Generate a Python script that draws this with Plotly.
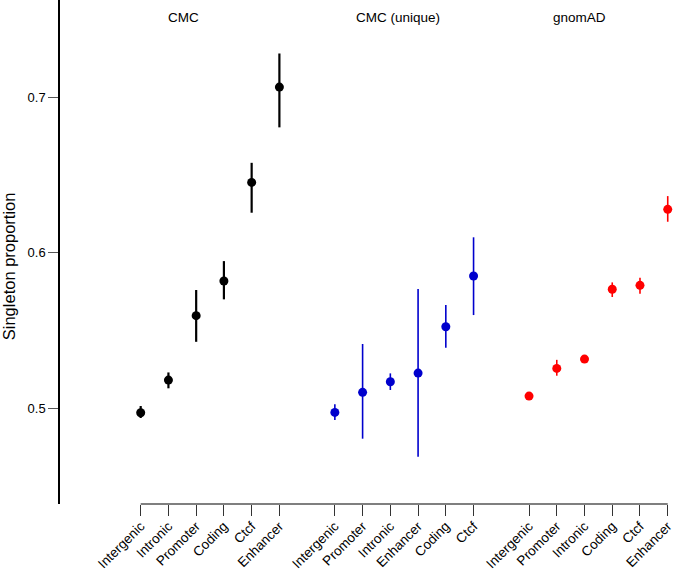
import plotly.graph_objects as go

# ---- data ----
groups = ["CMC", "CMC (unique)", "gnomAD"]
colors = ["#000000", "#0000CD", "#FF0000"]

cmc_labels = ["Intergenic", "Intronic", "Promoter", "Coding", "Ctcf", "Enhancer"]
cmc_vals = [0.497, 0.518, 0.5594, 0.5817, 0.6451, 0.7064]
cmc_lo = [0.4936, 0.5127, 0.5426, 0.5699, 0.6256, 0.6805]
cmc_hi = [0.5013, 0.5229, 0.5759, 0.5945, 0.6577, 0.728]

uniq_labels = ["Intergenic", "Promoter", "Intronic", "Enhancer", "Coding", "Ctcf"]
uniq_vals = [0.4972, 0.5101, 0.5169, 0.5225, 0.5523, 0.5849]
uniq_lo = [0.4923, 0.4803, 0.5116, 0.4687, 0.5388, 0.5598]
uniq_hi = [0.5024, 0.5412, 0.5223, 0.5765, 0.5662, 0.6098]

gnomad_labels = ["Intergenic", "Promoter", "Intronic", "Coding", "Ctcf", "Enhancer"]
gnomad_vals = [0.5077, 0.5255, 0.5315, 0.5764, 0.5789, 0.6278]
gnomad_lo = [0.5065, 0.5208, 0.5305, 0.5714, 0.5735, 0.6198]
gnomad_hi = [0.5089, 0.531, 0.5325, 0.5808, 0.5838, 0.6363]

y_ticks = [0.5, 0.6, 0.7]
y_ticktext = ["0.5", "0.6", "0.7"]

# ---- layout helpers ----
series = [
    (cmc_labels, cmc_vals, cmc_lo, cmc_hi),
    (uniq_labels, uniq_vals, uniq_lo, uniq_hi),
    (gnomad_labels, gnomad_vals, gnomad_lo, gnomad_hi),
]
group_start = [1, 8, 15]
title_x = [2.56, 10.28, 16.83]
line_w = [2.2, 1.6, 1.6]

fig = go.Figure()
tickvals, ticktext = [], []
for g, (labs, vals, lo, hi) in enumerate(series):
    xs = [group_start[g] + i for i in range(len(labs))]
    tickvals += xs
    ticktext += labs
    fig.add_trace(go.Scatter(
        x=xs, y=vals, mode="markers", cliponaxis=False,
        marker=dict(color=colors[g], size=9, line=dict(width=0)),
        error_y=dict(type="data", symmetric=False,
                     array=[h - v for h, v in zip(hi, vals)],
                     arrayminus=[v - l for v, l in zip(vals, lo)],
                     color=colors[g], thickness=line_w[g], width=0),
        showlegend=False, hoverinfo="skip",
    ))
    fig.add_annotation(x=title_x[g], y=0.966, xref="x", yref="paper",
                       text=groups[g], showarrow=False,
                       font=dict(size=13.5, color="black"),
                       xanchor="center", yanchor="middle")

# x axis baseline from first to last tick
fig.add_shape(type="line", xref="x", yref="paper",
              x0=tickvals[0], x1=tickvals[-1], y0=0, y1=0,
              line=dict(color="black", width=1.2))

fig.add_annotation(x=-0.083, y=0.472, xref="paper", yref="paper",
                   text="Singleton proportion", textangle=-90,
                   showarrow=False, font=dict(size=16.5, color="black"),
                   xanchor="center", yanchor="middle")

fig.update_layout(
    width=673, height=570,
    margin=dict(l=60, r=0, t=0, b=66, autoexpand=False),
    plot_bgcolor="white", paper_bgcolor="white",
    font=dict(family="Liberation Sans, Arial, sans-serif", color="black"),
    xaxis=dict(range=[-1.909, 20.19], tickvals=tickvals, ticktext=ticktext,
               tickangle=-45, ticks="outside", ticklen=11, tickwidth=1.2,
               tickcolor="#333", showline=False, showgrid=False,
               zeroline=False, tickfont=dict(size=13.5), automargin=False,
               ticklabeloverflow="allow", ticklabelstandoff=-3),
    yaxis=dict(range=[0.4383, 0.7624], tickvals=y_ticks, ticktext=y_ticktext,
               ticks="outside", ticklen=10, tickwidth=1.2, tickcolor="#555",
               showline=True, linecolor="black", linewidth=1.5,
               showgrid=False, zeroline=False, tickfont=dict(size=13),
               automargin=False),
)

fig.write_html("out.html", config={"displayModeBar": False},
               post_script="document.body.style.margin='0';document.body.style.overflow='hidden';")
